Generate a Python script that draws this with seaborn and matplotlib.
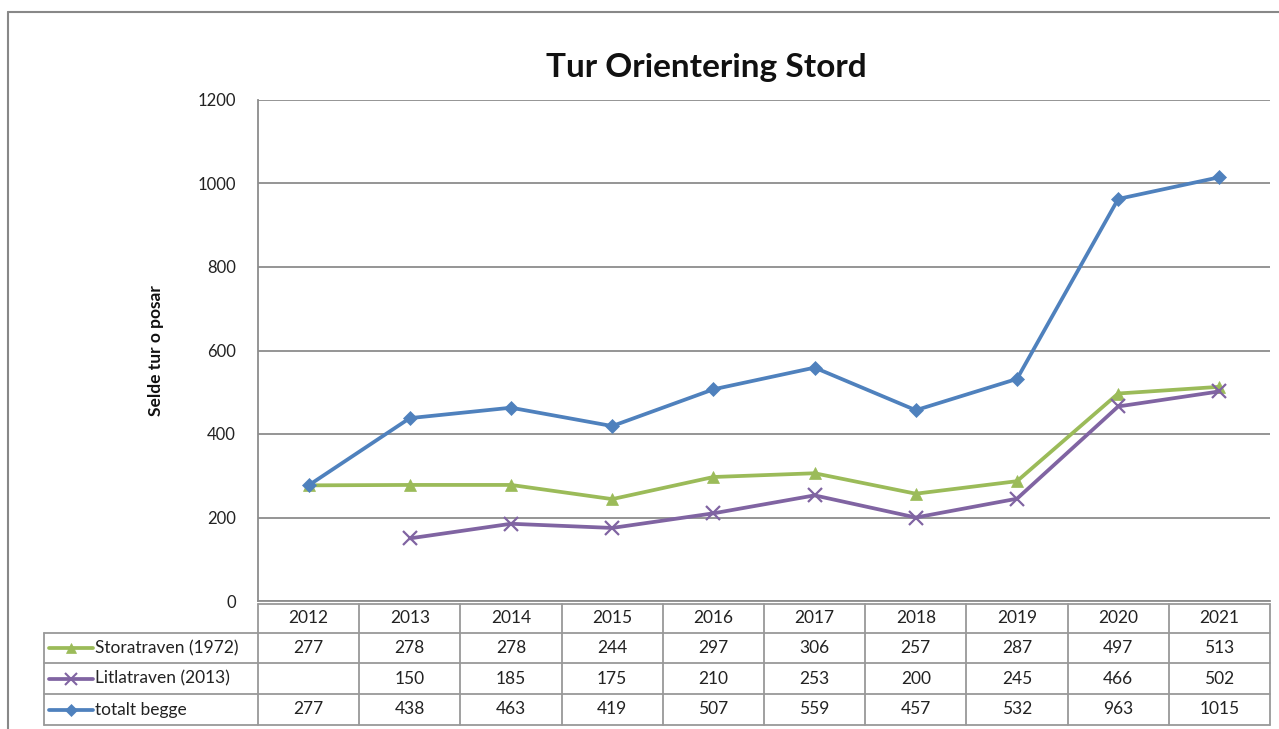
import numpy as np
import pandas as pd
import matplotlib
matplotlib.use("Agg")
import matplotlib.pyplot as plt
import matplotlib.transforms as mtransforms
from matplotlib.lines import Line2D
import seaborn as sns

# ---- data ----
years = [2012, 2013, 2014, 2015, 2016, 2017, 2018, 2019, 2020, 2021]
storatraven = [277, 278, 278, 244, 297, 306, 257, 287, 497, 513]
litlatraven = [np.nan, 150, 185, 175, 210, 253, 200, 245, 466, 502]
totalt = [277, 438, 463, 419, 507, 559, 457, 532, 963, 1015]
series_names = ["Storatraven (1972)", "Litlatraven (2013)", "totalt begge"]
title = "Tur Orientering Stord"
ylabel = "Selde tur o posar"
yticks = [0, 200, 400, 600, 800, 1000, 1200]

colors = {"Storatraven (1972)": "#9BBB59", "Litlatraven (2013)": "#8064A2", "totalt begge": "#4F81BD"}
markers = {"Storatraven (1972)": "^", "Litlatraven (2013)": "x", "totalt begge": "D"}
msizes = {"Storatraven (1972)": 9, "Litlatraven (2013)": 10, "totalt begge": 7.5}

sns.set_theme(style="white")
plt.rcParams['font.family'] = ['Lato', 'DejaVu Sans']

W, H = 1279, 729
fig = plt.figure(figsize=(W / 100, H / 100), dpi=100)
fx = lambda x: x / W
fy = lambda y: 1 - y / H

ax = fig.add_axes([fx(258), fy(601), fx(1270) - fx(258), fy(100) - fy(601)])

df = pd.DataFrame({
    "idx": list(range(len(years))) * 3,
    "value": storatraven + litlatraven + totalt,
    "series": sum([[n] * len(years) for n in series_names], []),
})

for name in series_names:
    sub = df[df["series"] == name].dropna()
    sns.lineplot(data=sub, x="idx", y="value", ax=ax, color=colors[name],
                 linewidth=2.7, marker=markers[name], markersize=msizes[name],
                 markeredgewidth=1.6 if markers[name] == "x" else 0.5,
                 markeredgecolor=colors[name], legend=False, zorder=3)

ax.set_xlim(-0.5, len(years) - 0.5)
ax.set_ylim(0, 1200)
ax.set_yticks(yticks)
ax.set_yticklabels([str(t) for t in yticks], fontsize=12, color="#222222")
ax.set_xticks([])
ax.set_xlabel("")
ax.set_ylabel(ylabel, fontsize=12.5, fontweight="bold", labelpad=24, color="#111111")
ax.tick_params(axis="y", length=0, pad=16)
ax.grid(axis="y", color="#8c8c8c", linewidth=1.3)
ax.set_axisbelow(True)
for s in ["top", "right"]:
    ax.spines[s].set_visible(False)
for s in ["left", "bottom"]:
    ax.spines[s].set_color("#8c8c8c")
    ax.spines[s].set_linewidth(1.3)

fig.text(fx(706), fy(68), title, ha="center", va="center", fontsize=24, fontweight="bold", color="#111111")

# outer frame
fig.add_artist(Line2D([fx(8), fx(8)], [fy(12), 0], transform=fig.transFigure, color="#888888", lw=1.5))
fig.add_artist(Line2D([fx(8), 1], [fy(12), fy(12)], transform=fig.transFigure, color="#888888", lw=1.5))

# data table
bt = mtransforms.blended_transform_factory(ax.transData, fig.transFigure)
grid_c = "#999999"
row_lines = [604, 633, 663, 694, 725]
x_left_px = 44
fig.add_artist(Line2D([-0.5, len(years) - 0.5], [fy(604), fy(604)], transform=bt, color=grid_c, lw=1.3, clip_on=False))
for yl in row_lines[1:]:
    fig.add_artist(Line2D([fx(x_left_px), fx(1270)], [fy(yl), fy(yl)], transform=fig.transFigure, color=grid_c, lw=1.3))
for i in range(len(years) + 1):
    xb = i - 0.5
    fig.add_artist(Line2D([xb, xb], [fy(604), fy(725)], transform=bt, color=grid_c, lw=1.3, clip_on=False))
fig.add_artist(Line2D([fx(x_left_px), fx(x_left_px)], [fy(633), fy(725)], transform=fig.transFigure, color=grid_c, lw=1.3))

tfs = 12.5
for i, yv in enumerate(years):
    fig.text(i, fy(618), str(yv), transform=bt, ha="center", va="center", fontsize=tfs, color="#222222")

rows = [storatraven, litlatraven, totalt]
for r, (name, vals) in enumerate(zip(series_names, rows)):
    yc = (row_lines[r + 1] + row_lines[r + 2]) / 2
    for i, v in enumerate(vals):
        if not np.isnan(v):
            fig.text(i, fy(yc), str(int(v)), transform=bt, ha="center", va="center", fontsize=tfs, color="#222222")
    fig.add_artist(Line2D([fx(49), fx(93)], [fy(yc), fy(yc)], transform=fig.transFigure, color=colors[name], lw=2.7))
    fig.add_artist(Line2D([fx(71)], [fy(yc)], transform=fig.transFigure, color=colors[name], marker=markers[name],
                          markersize=msizes[name] * 0.8, markeredgewidth=1.5 if markers[name] == "x" else 0.5,
                          markeredgecolor=colors[name]))
    fig.text(fx(95), fy(yc), name, ha="left", va="center", fontsize=tfs, color="#222222")

fig.savefig("out.png", dpi=100)
